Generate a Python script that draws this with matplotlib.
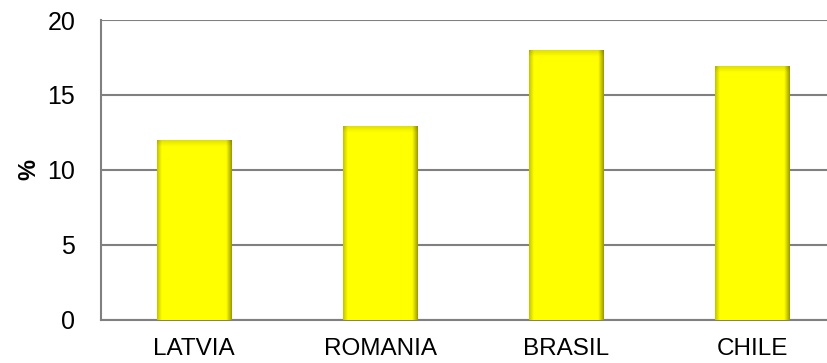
import numpy as np
import matplotlib
matplotlib.use('Agg')
import matplotlib.pyplot as plt

# data
countries = ['LATVIA', 'ROMANIA', 'BRASIL', 'CHILE']
values = [12.0, 12.9, 18.0, 16.9]

plt.rcParams['font.family'] = ['Liberation Sans', 'DejaVu Sans']

fig = plt.figure(figsize=(8.27, 3.63), dpi=100)
ax = fig.add_axes([0.1221, 0.1185, 0.878, 0.8264])

x = np.arange(len(countries))
bars = ax.bar(x, values, width=0.4, color='#FFFF00', zorder=3)

# bevel-like shading: darker edges, like the office "shape effect" bars
for b in bars:
    x0, y0 = b.get_x(), b.get_y()
    w, h = b.get_width(), b.get_height()
    nx, ny = 80, 400
    u = np.linspace(0, 1, nx)
    hor = np.ones(nx)
    hor = np.minimum(hor, 0.78 + 0.22 * np.clip(u / 0.06, 0, 1))
    hor = np.minimum(hor, 0.62 + 0.38 * np.clip((1 - u) / 0.07, 0, 1))
    v = np.linspace(0, 1, ny)  # 0 = top
    top_px = 6.0 / (h * 15.0)
    ver = 0.88 + 0.12 * np.clip(v / top_px, 0, 1)
    f = np.outer(ver, hor)
    img = np.zeros((ny, nx, 3))
    img[..., 0] = f
    img[..., 1] = f
    img[..., 2] = 0.0
    im = ax.imshow(img, extent=(x0, x0 + w, y0, y0 + h), aspect='auto',
                   origin='upper', zorder=4, interpolation='bilinear')
    im.set_clip_path(b)

ax.set_xlim(-0.5, 3.403)
ax.set_ylim(0, 20)
ax.set_yticks([0, 5, 10, 15, 20])
ax.yaxis.grid(True, color='#808080', linewidth=1.5, zorder=1)
ax.set_axisbelow(True)
ax.set_xticks(x)
ax.set_xticklabels(countries)
ax.tick_params(axis='both', length=0, labelsize=18, colors='black')
ax.tick_params(axis='y', pad=18.5)
ax.tick_params(axis='x', labelsize=17.5, pad=13)
for side in ['top', 'right']:
    ax.spines[side].set_visible(False)
for side in ['left', 'bottom']:
    ax.spines[side].set_color('#808080')
    ax.spines[side].set_linewidth(1.5)

ax.set_ylabel('%', fontsize=17, fontweight='bold', labelpad=5)

fig.savefig('out.png', dpi=100)
